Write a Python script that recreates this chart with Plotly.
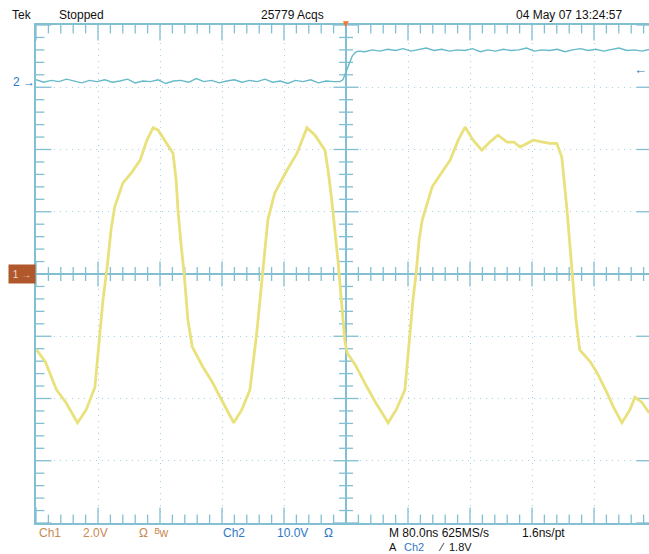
import numpy as np
import plotly.graph_objects as go

# ---------------- data (in screen divisions) ----------------
ch1_t = [-4.99, -4.85, -4.67, -4.52, -4.33, -4.19, -4.05, -3.97, -3.92, -3.85,
         -3.79, -3.73, -3.60, -3.45, -3.32, -3.21, -3.11, -3.03, -2.95, -2.79,
         -2.74, -2.71, -2.66, -2.61, -2.55, -2.48, -2.31, -2.16, -2.03, -1.81,
         -1.68, -1.55, -1.44, -1.35, -1.31, -1.26, -1.15, -0.95, -0.79, -0.71,
         -0.63, -0.50, -0.34, -0.29, -0.23, -0.13, -0.06, -0.02, 0.02, 0.15,
         0.34, 0.48, 0.68, 0.81, 0.95, 1.03, 1.08, 1.13, 1.18, 1.23,
         1.39, 1.55, 1.68, 1.81, 1.92, 2.05, 2.19, 2.32, 2.45, 2.60,
         2.71, 2.81, 2.92, 3.02, 3.18, 3.29, 3.40, 3.48, 3.56, 3.60,
         3.65, 3.71, 3.77, 3.94, 4.05, 4.21, 4.32, 4.45, 4.58, 4.66,
         4.77, 4.89]
ch1_v = [-1.22, -1.41, -1.86, -2.06, -2.39, -2.18, -1.82, -0.95, -0.42, 0.13,
         0.71, 1.08, 1.46, 1.64, 1.83, 2.15, 2.35, 2.31, 2.18, 1.94,
         1.51, 1.03, 0.47, 0.00, -0.74, -1.17, -1.49, -1.73, -1.98, -2.39,
         -2.18, -1.86, -0.95, 0.00, 0.47, 0.87, 1.30, 1.67, 1.94, 2.15,
         2.35, 2.23, 1.99, 1.67, 1.19, 0.22, -0.63, -1.06, -1.27, -1.46,
         -1.82, -2.07, -2.39, -2.18, -1.86, -0.95, -0.42, 0.00, 0.55, 0.87,
         1.40, 1.64, 1.83, 2.15, 2.36, 2.15, 1.99, 2.12, 2.23, 2.12,
         2.12, 2.04, 2.10, 2.15, 2.12, 2.10, 2.10, 1.88, 1.08, 0.55,
         0.00, -0.74, -1.22, -1.41, -1.59, -1.91, -2.15, -2.39, -2.18, -1.98,
         -2.06, -2.23]

ch2_low = [3.12, 3.08, 3.11, 3.09, 3.13, 3.10, 3.07, 3.11, 3.09, 3.12,
           3.08, 3.10, 3.13, 3.07, 3.10, 3.09, 3.12, 3.06, 3.10, 3.11,
           3.08, 3.14, 3.09, 3.11, 3.07, 3.10, 3.12, 3.08, 3.11, 3.09,
           3.13, 3.08, 3.10, 3.06, 3.11, 3.09, 3.12, 3.07, 3.10, 3.09]
ch2_edge_t = [-0.10, -0.05, 0.00, 0.05, 0.10, 0.15, 0.20]
ch2_edge_v = [3.09, 3.12, 3.25, 3.38, 3.50, 3.56, 3.58]
ch2_high = [3.57, 3.60, 3.58, 3.61, 3.59, 3.62, 3.58, 3.60, 3.63, 3.59,
            3.61, 3.58, 3.60, 3.59, 3.62, 3.57, 3.60, 3.58, 3.61, 3.59,
            3.60, 3.63, 3.58, 3.60, 3.59, 3.61, 3.57, 3.60, 3.62, 3.59,
            3.61, 3.58, 3.60, 3.63, 3.59, 3.60, 3.58, 3.61]

ch2_t = list(np.linspace(-5.0, -0.2, len(ch2_low))) + ch2_edge_t + \
        list(np.linspace(0.3, 4.9, len(ch2_high)))
ch2_v = ch2_low + ch2_edge_v + ch2_high

ch1_ref = 0.0
ch2_ref = 3.09
trig_level = 3.29

# ---------------- styles ----------------
GRAT = '#82bfd2'
GRID = '#a4d2e3'
YEL = '#e9e17c'
CYA = '#66bac9'
BLUE = '#2f78c4'
ORG = '#c98a52'
FONT = 'Liberation Sans, Arial, sans-serif'

X0, X1 = -5.0, -5.0 + 613 / 62.0

fig = go.Figure()

# graticule tick marks (centre cross and left/top/bottom borders)
tx = [round(-5.0 + 0.2 * i, 2) for i in range(51)]
ty = [round(-4.0 + 0.2 * i, 2) for i in range(41)]
minor_x = [v for v in tx if abs(v - round(v)) > 1e-6]
major_x = [v for v in tx if abs(v - round(v)) < 1e-6]
minor_y = [v for v in ty if abs(v - round(v)) > 1e-6]
major_y = [v for v in ty if abs(v - round(v)) < 1e-6]

def tick_trace(xs, ys, sym, size):
    fig.add_trace(go.Scatter(x=xs, y=ys, mode='markers', cliponaxis=True,
                             marker=dict(symbol=sym, size=size, color=GRAT,
                                         line=dict(width=1.3, color=GRAT)),
                             hoverinfo='skip', showlegend=False))

tick_trace(minor_x, [0.0] * len(minor_x), 'line-ns', 10)
tick_trace(major_x, [0.0] * len(major_x), 'line-ns', 18)
tick_trace([0.0] * len(minor_y), minor_y, 'line-ew', 10)
tick_trace([0.0] * len(major_y), major_y, 'line-ew', 18)
# border ticks (centred on the border line, clipped to the inside half)
tick_trace([X0] * len(minor_y), minor_y, 'line-ew', 12)
tick_trace(minor_x, [4.0] * len(minor_x), 'line-ns', 12)
tick_trace(minor_x, [-4.0] * len(minor_x), 'line-ns', 12)
tick_trace([X0] * len(major_y), major_y, 'line-ew', 22)
tick_trace(major_x, [4.0] * len(major_x), 'line-ns', 22)
tick_trace(major_x, [-4.0] * len(major_x), 'line-ns', 22)
# right border stubs (the border itself lies just off screen)
tick_trace([X1] * len(major_y), major_y, 'line-ew', 18)

# waveforms
fig.add_trace(go.Scatter(x=ch2_t, y=ch2_v, mode='lines',
                         line=dict(color=CYA, width=1.4), showlegend=False))
fig.add_trace(go.Scatter(x=ch1_t, y=ch1_v, mode='lines',
                         line=dict(color=YEL, width=2.8), showlegend=False))

axis_common = dict(showline=True, linecolor=GRAT, linewidth=1.5,
                   ticks='', showticklabels=False, showgrid=True,
                   gridcolor=GRID, gridwidth=1, griddash='1px,5px',
                   zeroline=True, zerolinecolor=GRAT, zerolinewidth=1.5,
                   fixedrange=True)

fig.update_xaxes(range=[X0, X1], dtick=1, tick0=0, mirror=True, **axis_common)
fig.update_yaxes(range=[-4, 4], dtick=1, tick0=0, mirror=False, **axis_common)

def txt(x, y, s, color='#111111', anchor='left', size=12):
    fig.add_annotation(x=x, y=y, xref='paper', yref='paper', text=s,
                       showarrow=False, xanchor=anchor, yanchor='middle',
                       font=dict(family=FONT, size=size, color=color))

def px2x(px):
    return (px - 36) / 613.0

def py2y(py):
    return (523 - py) / 498.0

# header
txt(px2x(10), py2y(15), 'Tek')
txt(px2x(57), py2y(15), 'Stopped')
txt(px2x(292), py2y(15), '25779 Acqs', anchor='center')
txt(px2x(624), py2y(15), '04 May 07 13:24:57', anchor='right')

# footer row 1
txt(px2x(37), py2y(533), 'Ch1', color=ORG)
txt(px2x(81), py2y(533), '2.0V', color=ORG)
txt(px2x(137), py2y(533), 'Ω  ᴮw', color=ORG)
txt(px2x(221), py2y(533), 'Ch2', color=BLUE)
txt(px2x(275), py2y(533), '10.0V', color=BLUE)
txt(px2x(322), py2y(533), 'Ω', color=BLUE)
txt(px2x(387), py2y(533), 'M 80.0ns 625MS/s')
txt(px2x(520), py2y(533), '1.6ns/pt')
# footer row 2
txt(px2x(387), py2y(547), 'A', size=11)
txt(px2x(402), py2y(547), 'Ch2', color=BLUE, size=11)
txt(px2x(436), py2y(547), '⁄', size=11)
txt(px2x(447), py2y(547), '1.8V', size=11)

# channel markers
fig.add_annotation(x=0, xref='paper', y=ch1_ref, yref='y', text='1 →',
                   showarrow=False, xanchor='right', yanchor='middle',
                   bgcolor='#b0582c', width=24, height=16,
                   font=dict(family=FONT, size=10, color='#f3d9c8'))
fig.add_annotation(x=0, xref='paper', y=ch2_ref, yref='y', text='2 →',
                   showarrow=False, xanchor='right', yanchor='middle', xshift=1,
                   font=dict(family=FONT, size=12, color=BLUE))
fig.add_annotation(x=1, xref='paper', y=trig_level, yref='y', text='<b>←</b>',
                   showarrow=False, xanchor='right', yanchor='middle',
                   font=dict(family=FONT, size=13, color=BLUE))
# trigger position marker
fig.add_annotation(x=0, xref='x', y=py2y(24), yref='paper', text='▼',
                   showarrow=False, xanchor='center', yanchor='middle',
                   font=dict(family=FONT, size=10, color='#f07a30'))

fig.update_layout(width=649, height=554,
                  margin=dict(l=36, r=0, t=25, b=31),
                  paper_bgcolor='white', plot_bgcolor='white',
                  showlegend=False)

fig.write_html('out.html')
